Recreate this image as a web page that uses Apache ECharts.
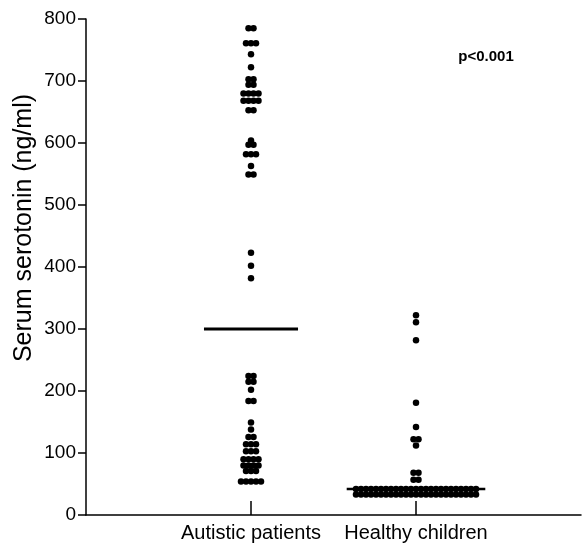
<!DOCTYPE html>
<html>
<head>
<meta charset="utf-8">
<script src="https://cdn.jsdelivr.net/npm/echarts@6/dist/echarts.min.js"></script>
<style>html,body{margin:0;padding:0;background:#fff}#c{width:588px;height:544px}</style>
</head>
<body>
<div id="c"></div>
<script>
// Category names and their positions on the x axis
const categories = ['Autistic patients', 'Healthy children'];
const categoryPos = [1, 2];
// Dot rows: [serotonin value, number of dots in the row]
const autisticRows = [
  [785,2],[761,3],[743,1],[722,1],[703,2],[694,2],[680,4],[668,4],[653,2],
  [604,1],[597,2],[582,3],[563,1],[549,2],
  [423,1],[402,1],[382,1],
  [224,2],[215,2],[202,1],[184,2],
  [149,1],[138,1],[126,2],[114,3],[103,3],[90,4],[80,4],[71,3],[54,5]
];
const healthyRows = [
  [322,1],[311,1],[282,1],[181,1],[142,1],[122,2],[112,1],[68,2],[57,2],[42,25],[33,25]
];
// Horizontal group lines
const groupLines = [300, 42];
const yTicks = [0,100,200,300,400,500,600,700,800];

const PITCH = 0.0303;            // horizontal dot spacing in x-axis units
const lineHalf = [0.285, 0.42];  // half length of the group lines in x units

function swarm(rows, center) {
  const pts = [];
  rows.forEach(([v, n]) => {
    for (let i = 0; i < n; i++) pts.push([center + (i - (n - 1) / 2) * PITCH, v]);
  });
  return pts;
}

const chart = echarts.init(document.getElementById('c'));
const fontF = '"Liberation Sans", Arial, sans-serif';
chart.setOption({
  animation: false,
  grid: { left: 86, right: 7, top: 19, bottom: 29 },
  xAxis: {
    type: 'value', min: 0, max: 3, interval: 1,
    splitLine: { show: false },
    axisLine: { lineStyle: { color: '#000', width: 1.5 } },
    axisTick: { show: true, inside: true, length: 14, customValues: categoryPos, lineStyle: { color: '#000', width: 1.5 } },
    axisLabel: {
      customValues: categoryPos, margin: 8,
      formatter: v => categories[categoryPos.indexOf(v)] || '',
      color: '#000', fontSize: 20, fontFamily: fontF
    }
  },
  yAxis: {
    type: 'value', min: 0, max: 800, interval: 100,
    splitLine: { show: false },
    axisLine: { show: true, lineStyle: { color: '#000', width: 1.5 } },
    axisTick: { show: true, length: 8, lineStyle: { color: '#000', width: 1.5 } },
    axisLabel: { color: '#000', fontSize: 19, fontFamily: fontF, margin: 10,
      formatter: v => yTicks.includes(v) ? String(v) : '' }
  },
  graphic: [
    { type: 'text', x: 24, y: 228, rotation: Math.PI / 2,
      style: { text: 'Serum serotonin (ng/ml)', fill: '#000', font: '25px ' + fontF,
        textAlign: 'center', textVerticalAlign: 'middle' } },
    { type: 'text', x: 486, y: 57,
      style: { text: 'p<0.001', fill: '#000', font: 'bold 15px ' + fontF,
        textAlign: 'center', textVerticalAlign: 'middle' } }
  ],
  series: [
    { type: 'scatter', data: swarm(autisticRows, categoryPos[0]), symbolSize: 6.5,
      itemStyle: { color: '#000', opacity: 1 } },
    { type: 'scatter', data: swarm(healthyRows, categoryPos[1]), symbolSize: 6.5,
      itemStyle: { color: '#000', opacity: 1 } },
    { type: 'line', data: [[categoryPos[0] - lineHalf[0], groupLines[0]], [categoryPos[0] + lineHalf[0], groupLines[0]]],
      symbol: 'none', lineStyle: { color: '#000', width: 3 }, z: 5 },
    { type: 'line', data: [[categoryPos[1] - lineHalf[1], groupLines[1]], [categoryPos[1] + lineHalf[1], groupLines[1]]],
      symbol: 'none', lineStyle: { color: '#000', width: 2.5 }, z: 1 }
  ]
});
</script>
</body>
</html>
